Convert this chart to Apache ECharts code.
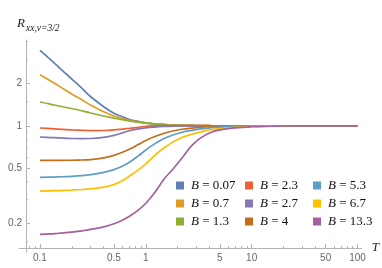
<!DOCTYPE html>
<html><head><meta charset="utf-8">
<script src="https://cdn.jsdelivr.net/npm/echarts@6/dist/echarts.min.js"></script>
<style>html,body{margin:0;padding:0;background:#fff}#c{width:382px;height:268px}</style>
</head><body><div id="c"></div>
<script>
// Temperature samples (x axis, log scale)
const T = [0.1, 0.125, 0.15, 0.2, 0.25, 0.3, 0.4, 0.5, 0.6, 0.7, 0.85, 1, 1.2, 1.5, 1.8, 2.2, 2.7, 3.3, 4, 5, 7, 10, 15, 20, 30, 50, 100];
// Field values (legend)
const B_values = ['0.07', '0.7', '1.3', '2.3', '2.7', '4', '5.3', '6.7', '13.3'];
// R_xx values for each B
const R_B007 = [3.46, 2.98, 2.63, 2.16, 1.85, 1.62, 1.37, 1.23, 1.16, 1.11, 1.075, 1.05, 1.035, 1.022, 1.014, 1.009, 1.006, 1.004, 1.002, 1.001, 1, 1, 1, 1, 1, 1, 1];
const R_B07  = [2.32, 2.1, 1.93, 1.69, 1.53, 1.41, 1.26, 1.175, 1.125, 1.095, 1.065, 1.045, 1.032, 1.02, 1.013, 1.009, 1.006, 1.004, 1.002, 1.001, 1, 1, 1, 1, 1, 1, 1];
const R_B13  = [1.48, 1.43, 1.385, 1.33, 1.28, 1.235, 1.175, 1.135, 1.105, 1.085, 1.062, 1.045, 1.032, 1.02, 1.013, 1.009, 1.006, 1.004, 1.002, 1.001, 1, 1, 1, 1, 1, 1, 1];
const R_B23  = [0.965, 0.955, 0.947, 0.935, 0.928, 0.925, 0.926, 0.935, 0.948, 0.96, 0.977, 0.99, 0.998, 1.003, 1.005, 1.005, 1.004, 1.003, 1.002, 1.001, 1, 1, 1, 1, 1, 1, 1];
const R_B27  = [0.832, 0.825, 0.82, 0.812, 0.81, 0.812, 0.828, 0.855, 0.89, 0.922, 0.95, 0.968, 0.98, 0.99, 0.995, 0.997, 0.999, 1, 1, 1, 1, 1, 1, 1, 1, 1, 1];
const R_B4   = [0.567, 0.567, 0.567, 0.568, 0.57, 0.573, 0.59, 0.615, 0.647, 0.68, 0.735, 0.785, 0.835, 0.885, 0.918, 0.945, 0.963, 0.977, 0.986, 0.993, 0.998, 1, 1, 1, 1, 1, 1];
const R_B53  = [0.429, 0.43, 0.432, 0.436, 0.441, 0.448, 0.465, 0.487, 0.515, 0.55, 0.61, 0.672, 0.74, 0.815, 0.86, 0.9, 0.928, 0.95, 0.966, 0.978, 0.991, 0.997, 0.999, 1, 1, 1, 1];
const R_B67  = [0.342, 0.343, 0.345, 0.348, 0.351, 0.355, 0.365, 0.38, 0.405, 0.438, 0.485, 0.535, 0.61, 0.7, 0.765, 0.825, 0.87, 0.905, 0.935, 0.955, 0.977, 0.989, 0.995, 0.997, 0.999, 1, 1];
const R_B133 = [0.168, 0.169, 0.171, 0.174, 0.178, 0.182, 0.19, 0.2, 0.212, 0.226, 0.25, 0.28, 0.33, 0.42, 0.49, 0.59, 0.72, 0.82, 0.89, 0.935, 0.968, 0.985, 0.993, 0.997, 0.999, 1, 1];
const seriesValues = [R_B007, R_B07, R_B13, R_B23, R_B27, R_B4, R_B53, R_B67, R_B133];
// Tick values
const xMajorTicks = [0.1, 0.5, 1, 5, 10, 50, 100];
const xMinorTicks = [0.08, 0.09, 0.2, 0.3, 0.4, 0.6, 0.7, 0.8, 0.9, 2, 3, 4, 6, 7, 8, 9, 20, 30, 40, 60, 70, 80, 90];
const yMajorTicks = [0.2, 0.5, 1, 2];
const yMinorTicks = [0.15, 0.3, 0.4, 0.6, 0.7, 0.8, 0.9, 1.5, 3, 4];
const colors = ['#5E81B5', '#E19C24', '#8FB032', '#EB6235', '#8778B3', '#C56E1A', '#5D9EC7', '#FFBF00', '#A5609D'];

const L = Math.log10;
const xMin = -1.198, xMax = 2.038, yMin = -0.901, yMax = 0.613;
const axisColor = '#b3b3b3';
const labelFmt = v => String(parseFloat(Math.pow(10, v).toPrecision(6)));
const names = B_values.map(b => 'B = ' + b);

function xAx(major) {
  return {
    type: 'value', min: xMin, max: xMax, position: 'bottom', offset: -4,
    axisLine: { show: major, onZero: false, lineStyle: { color: axisColor, width: 1 } },
    axisTick: { show: true, inside: true, length: major ? 4 : 2, customValues: (major ? xMajorTicks : xMinorTicks).map(L), lineStyle: { color: axisColor } },
    axisLabel: major ? { show: true, customValues: xMajorTicks.map(L), formatter: labelFmt, color: '#666', fontFamily: 'Liberation Sans', fontSize: 10, margin: 5 } : { show: false },
    splitLine: { show: false },
    name: major ? 'T' : '', nameLocation: 'end', nameGap: 4,
    nameTextStyle: { fontFamily: 'Liberation Serif', fontStyle: 'italic', fontSize: 13, color: '#222' }
  };
}
function yAx(major) {
  return {
    type: 'value', min: yMin, max: yMax, position: 'left', offset: -7,
    axisLine: { show: major, onZero: false, lineStyle: { color: axisColor, width: 1 } },
    axisTick: { show: true, inside: true, length: major ? 4 : 2, customValues: (major ? yMajorTicks : yMinorTicks).map(L), lineStyle: { color: axisColor } },
    axisLabel: major ? { show: true, customValues: yMajorTicks.map(L), formatter: labelFmt, color: '#666', fontFamily: 'Liberation Sans', fontSize: 10, margin: 4 } : { show: false },
    splitLine: { show: false }
  };
}

const legendRich = {
  i: { fontFamily: 'Liberation Serif', fontStyle: 'italic', fontSize: 13, color: '#111', padding: [0, 0, 0, 2] },
  n: { fontFamily: 'Liberation Serif', fontSize: 13, color: '#111' }
};
const legendCols = [176, 245, 313];
const legends = legendCols.map((left, c) => ({
  data: names.slice(c * 3, c * 3 + 3), orient: 'vertical', left: left, top: 179,
  itemWidth: 8, itemHeight: 8, itemGap: 5, icon: 'rect', padding: 0,
  formatter: n => '{i|B}{n| = ' + n.slice(4) + '}',
  textStyle: { rich: legendRich }
}));

const chart = echarts.init(document.getElementById('c'), null, { renderer: 'canvas' });
chart.setOption({
  animation: false,
  color: colors,
  grid: { left: 19, right: 20, top: 40, bottom: 16, containLabel: false },
  xAxis: [xAx(true), xAx(false)],
  yAxis: [yAx(true), yAx(false)],
  legend: legends,
  graphic: [
    { type: 'text', left: 17, top: 17, style: { text: 'R', font: 'italic 13px "Liberation Serif"', fill: '#222' } },
    { type: 'text', left: 26, top: 23, style: { text: 'xx,ν=3/2', font: 'italic 9.5px "Liberation Serif"', fill: '#222' } }
  ],
  series: seriesValues.map((vals, k) => ({
    name: names[k], type: 'line', xAxisIndex: 0, yAxisIndex: 0,
    data: T.map((t, i) => [L(t), L(vals[i])]),
    smooth: 0.4, showSymbol: false, symbol: 'none',
    lineStyle: { width: 1.7, color: colors[k] }, itemStyle: { color: colors[k] }
  }))
});
</script></body></html>
